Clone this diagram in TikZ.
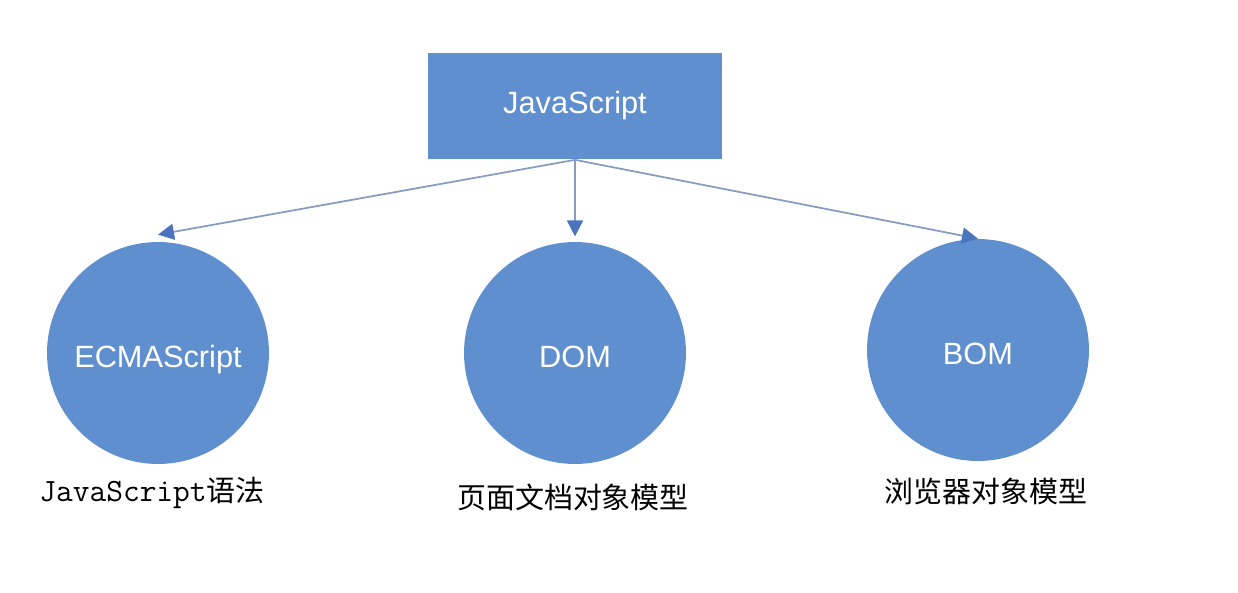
\documentclass[tikz,border=0pt]{standalone}
\usepackage{fontspec}
\setmainfont{Liberation Sans}
\newfontfamily\cjk{Noto Sans CJK SC}
\usetikzlibrary{arrows.meta}
\definecolor{fillblue}{HTML}{5F8FCE}
\definecolor{line}{HTML}{8A9CBD}
\definecolor{tip}{HTML}{4A74BD}

\begin{document}
\begin{tikzpicture}[
  x=0.02cm,y=-0.02cm,
  arrow/.style={-{Triangle[length=3.2mm,width=3.2mm,color=tip,fill=tip]},draw=line,line width=1pt},
  part/.style={circle,fill=fillblue,minimum size=4.44cm,inner sep=0pt,
    text=white,font=\fontsize{17.5}{20}\selectfont,text height=20pt,text depth=3.5pt},
  note/.style={font=\fontsize{16.5}{20}\selectfont\cjk}
]
  \useasboundingbox (0,0) rectangle (1238,592);

  \node[fill=fillblue,minimum width=5.88cm,minimum height=2.14cm,
    text=white,font=\fontsize{17.5}{20}\selectfont] (js) at (575,106) {JavaScript};

  \node[part] (ecma) at (158,353) {ECMAScript};
  \node[part] (dom) at (575,353) {DOM};
  \node[part] (bom) at (978,350) {BOM};

  \draw[arrow] (js.south) -- ([yshift=4pt]ecma.north);
  \draw[arrow] (js.south) -- ([yshift=3pt]dom.north);
  \draw[arrow] (js.south) -- ([yshift=0pt]bom.north);

  \node[note] (ecmanote) at (152,493)
    {{\ttfamily\fontsize{18.5}{20}\selectfont JavaScript}语法};
  \node[note] (domnote) at (573,497) {页面文档对象模型};
  \node[note] (bomnote) at (986,491) {浏览器对象模型};
\end{tikzpicture}
\end{document}
